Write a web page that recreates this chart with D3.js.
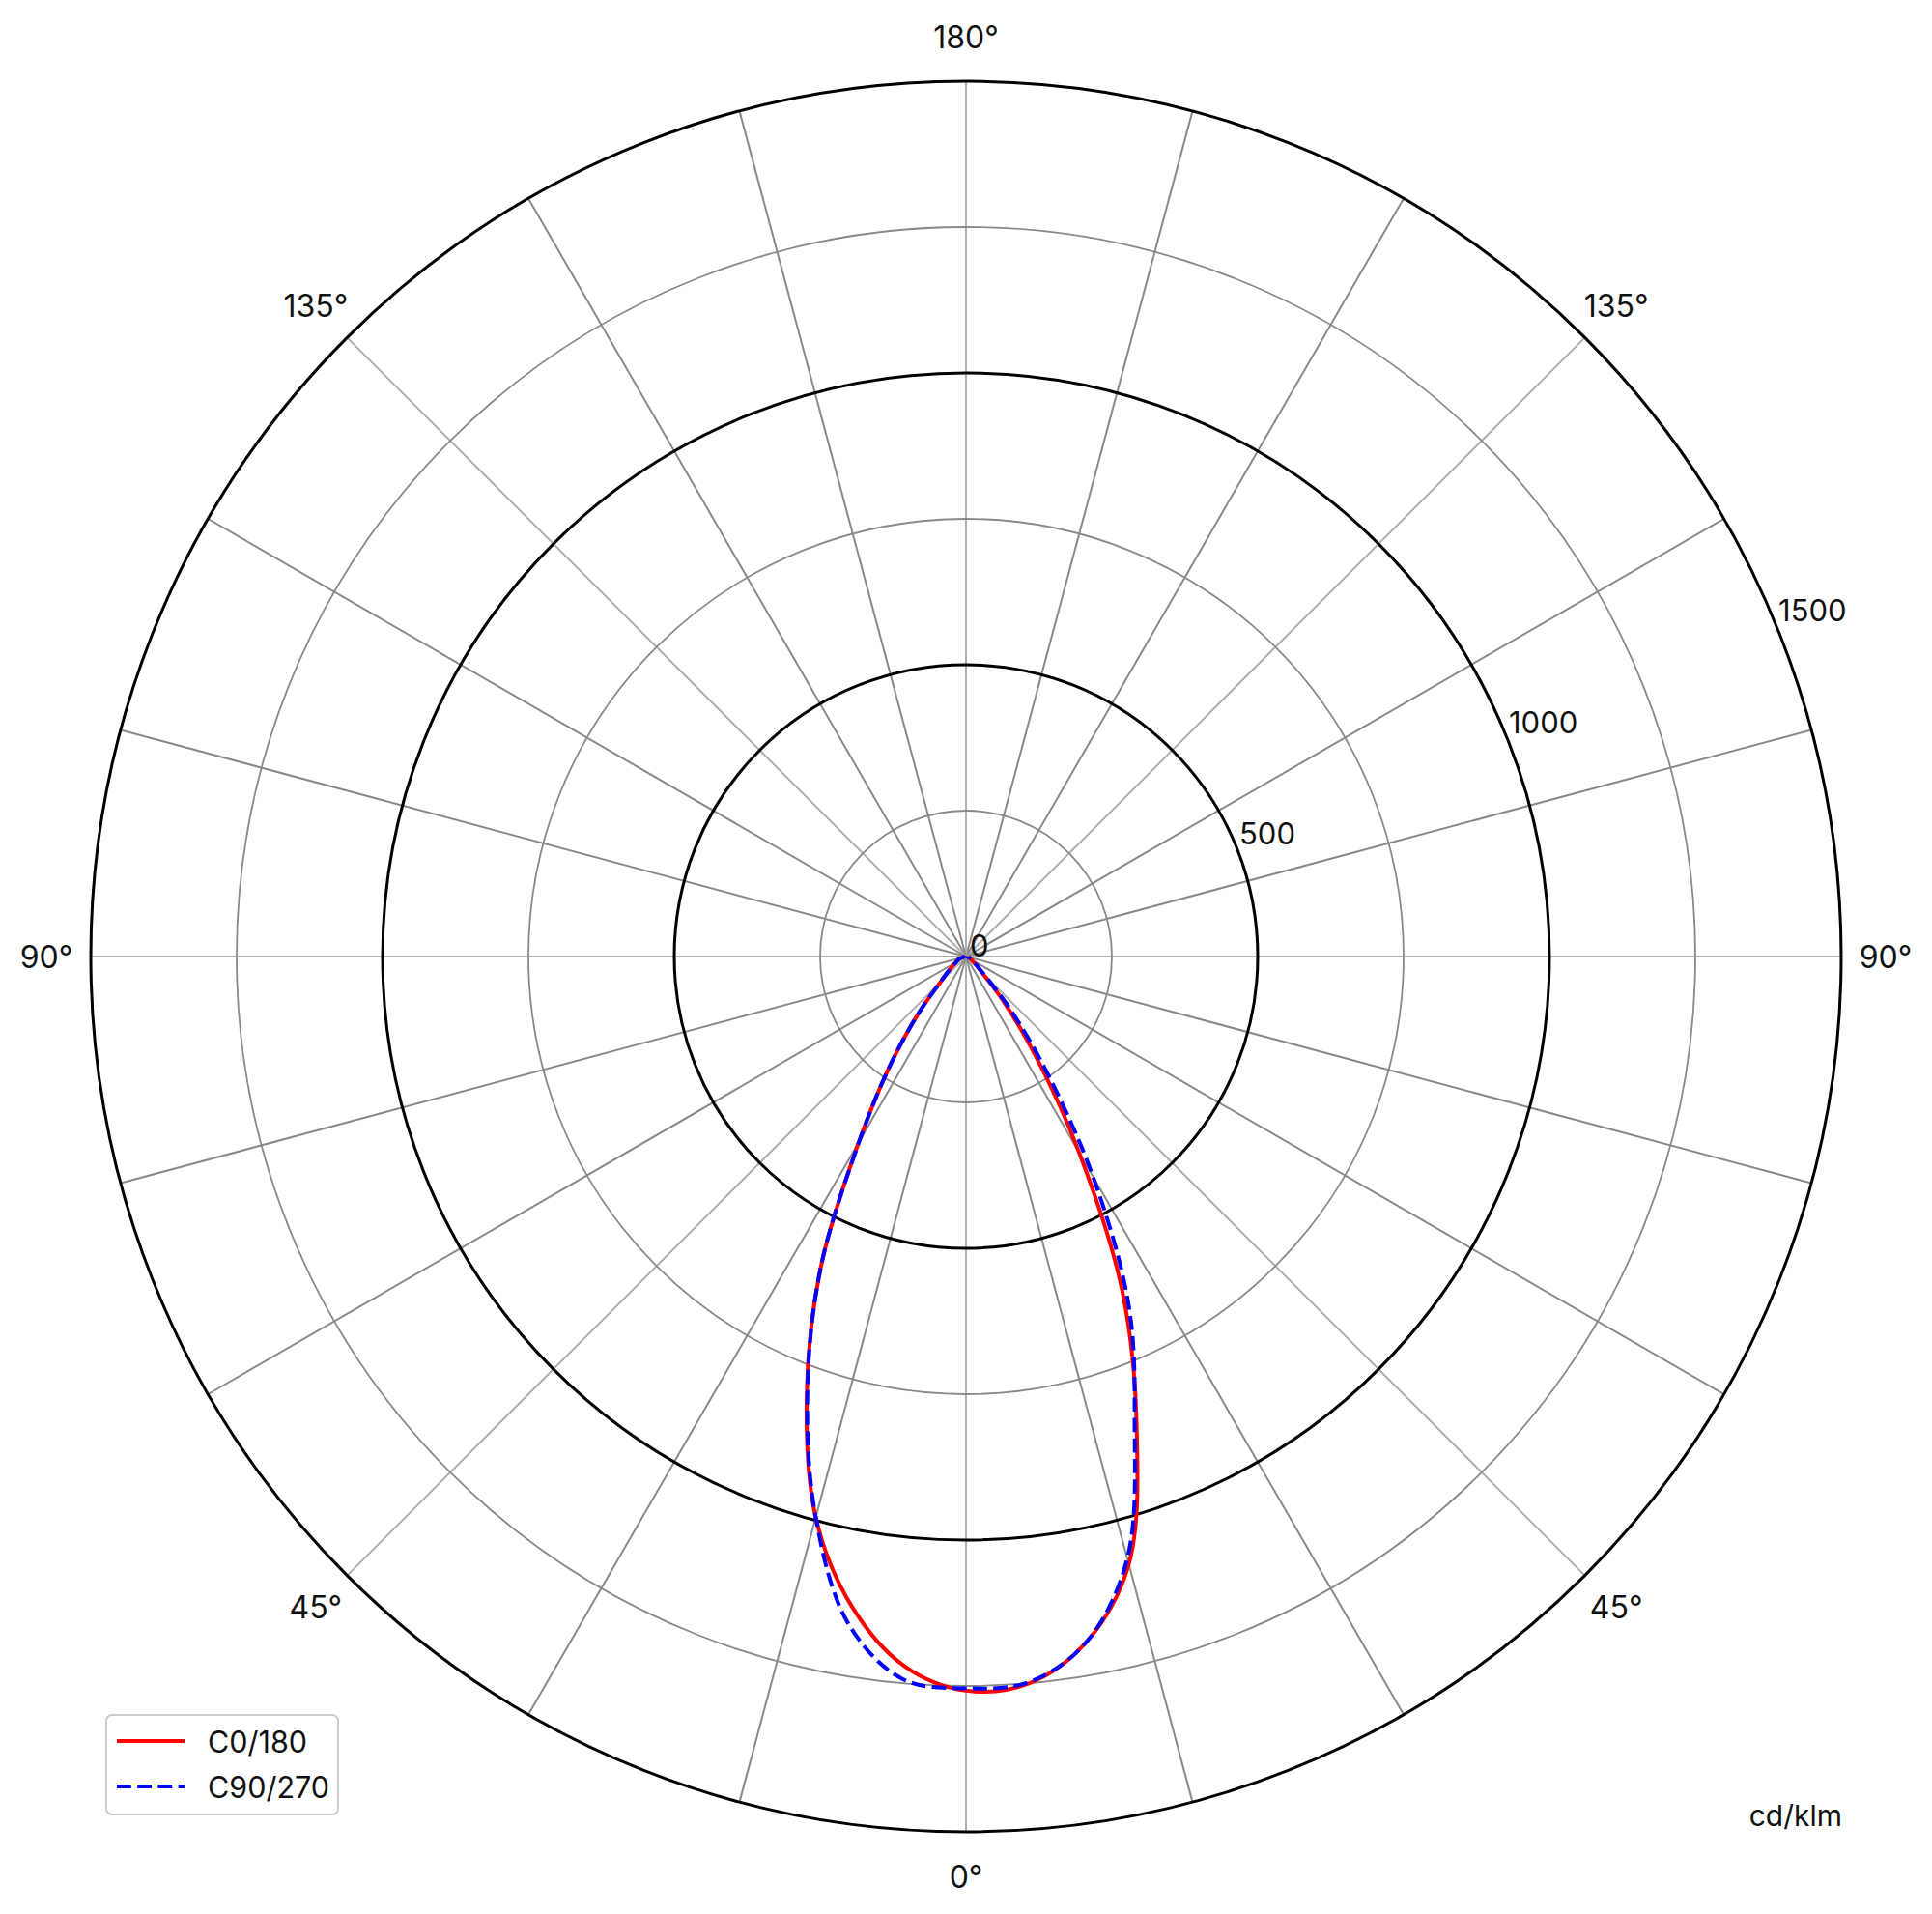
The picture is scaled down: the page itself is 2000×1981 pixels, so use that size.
<!DOCTYPE html>
<html>
<head>
<meta charset="utf-8">
<script src="https://cdn.jsdelivr.net/npm/d3@7"></script>
<style>
  html, body { margin: 0; padding: 0; background: #fff; }
  svg text { font-family: Inter, "Liberation Sans", sans-serif; fill: #111; }
</style>
</head>
<body>
<script>
// gamma angles (deg from nadir), 5 deg steps
var gammas = [0,5,10,15,20,25,30,35,40,45,50,55,60,65,70,75,80,85,90];
// intensities in cd/klm
var c0   = [1258,1250,1192,1078,855,635,388,208,100,39,22,14,10,7,5,4,3,2,2];
var c180 = [1258,1220,1130,995,798,590,368,225,125,62,40,28,20,16,12,8,5,3,2];
var c90  = [1254,1248,1192,1068,845,660,435,240,118,45,25,15,10,7,5,4,3,2,2];
var c270 = [1254,1243,1161,995,795,590,366,225,125,62,40,28,20,16,12,8,5,3,2];

var ringValues = [250,500,750,1000,1250,1500];
var ringLabels = [0,500,1000,1500];
var spokeAngles = d3.range(0, 360, 15);
var angleLabels = [0,45,90,135,180];
var seriesNames = ['C0/180','C90/270'];

var W = 2000, H = 1981, cx = 1000, cy = 990;
var svg = d3.select('body').append('svg').attr('width',W).attr('height',H);

var r = d3.scaleLinear().domain([0,1500]).range([0,906]);
var g = svg.append('g').attr('transform','translate('+cx+','+cy+')');

// spokes, every 15 deg
g.selectAll('.spoke').data(spokeAngles).enter().append('line')
  .attr('x1',0).attr('y1',0)
  .attr('x2',function(d){ return r(1500)*Math.sin(d*Math.PI/180); })
  .attr('y2',function(d){ return r(1500)*Math.cos(d*Math.PI/180); })
  .style('stroke',function(d){ return d%45===0 ? '#b0b0b0' : '#8a8a8a'; })
  .style('stroke-width',2);

// rings
g.selectAll('.ring').data(ringValues).enter().append('circle')
  .attr('r',function(d){ return r(d); })
  .style('fill','none')
  .style('stroke',function(d){ return d%500===0 ? '#000' : '#8a8a8a'; })
  .style('stroke-width',function(d){ return d%500===0 ? 3 : 1.8; });

// radial labels at 22.5 deg above horizontal
var la = 22.5*Math.PI/180;
g.selectAll('.rl').data(ringLabels).enter().append('text')
  .attr('x',function(d){ return r(d)*Math.cos(la)+4; })
  .attr('y',function(d){ return -r(d)*Math.sin(la); })
  .attr('font-size',31)
  .text(function(d){ return d; });

// angle labels, both sides
var angData = [];
angleLabels.forEach(function(a){
  angData.push({a:a, s:1});
  if (a!==0 && a!==180) angData.push({a:a, s:-1});
});
g.selectAll('.al').data(angData).enter().append('text')
  .attr('x',function(d){ return d.s*952*Math.sin(d.a*Math.PI/180); })
  .attr('y',function(d){ return 952*Math.cos(d.a*Math.PI/180); })
  .attr('text-anchor','middle').attr('dominant-baseline','central')
  .attr('font-size',32)
  .text(function(d){ return d.a+'°'; });

// curves
function pts(left, right){
  var p = [];
  for (var i=gammas.length-1;i>=0;i--) p.push([Math.PI + gammas[i]*Math.PI/180, r(left[i])]);
  for (var j=1;j<gammas.length;j++) p.push([Math.PI - gammas[j]*Math.PI/180, r(right[j])]);
  return p;
}
var line = d3.lineRadial().angle(function(d){ return d[0]; }).radius(function(d){ return d[1]; })
  .curve(d3.curveCatmullRom.alpha(0.5));

g.append('path').attr('d',line(pts(c180,c0)))
  .style('fill','none').style('stroke','#ff0000').style('stroke-width',4);
g.append('path').attr('d',line(pts(c270,c90)))
  .style('fill','none').style('stroke','#0000ff').style('stroke-width',4)
  .style('stroke-dasharray','14.8,6.4');

// unit
svg.append('text').attr('x',1907).attr('y',1890).attr('text-anchor','end')
  .attr('font-size',30).text('cd/klm');

// legend
var lg = svg.append('g');
lg.append('rect').attr('x',110).attr('y',1775).attr('width',240).attr('height',103)
  .attr('rx',6).style('fill','#fff').style('fill-opacity',0.8)
  .style('stroke','#cccccc').style('stroke-width',2);
var legY = [1802,1849];
lg.append('line').attr('x1',121).attr('x2',191).attr('y1',legY[0]).attr('y2',legY[0])
  .style('stroke','#ff0000').style('stroke-width',4);
lg.append('line').attr('x1',121).attr('x2',191).attr('y1',legY[1]).attr('y2',legY[1])
  .style('stroke','#0000ff').style('stroke-width',4).style('stroke-dasharray','14.8,6.4');
lg.selectAll('.lt').data(seriesNames).enter().append('text')
  .attr('x',215).attr('y',function(d,i){ return legY[i]; })
  .attr('dominant-baseline','central').attr('font-size',30.5)
  .text(function(d){ return d; });
</script>
</body>
</html>
